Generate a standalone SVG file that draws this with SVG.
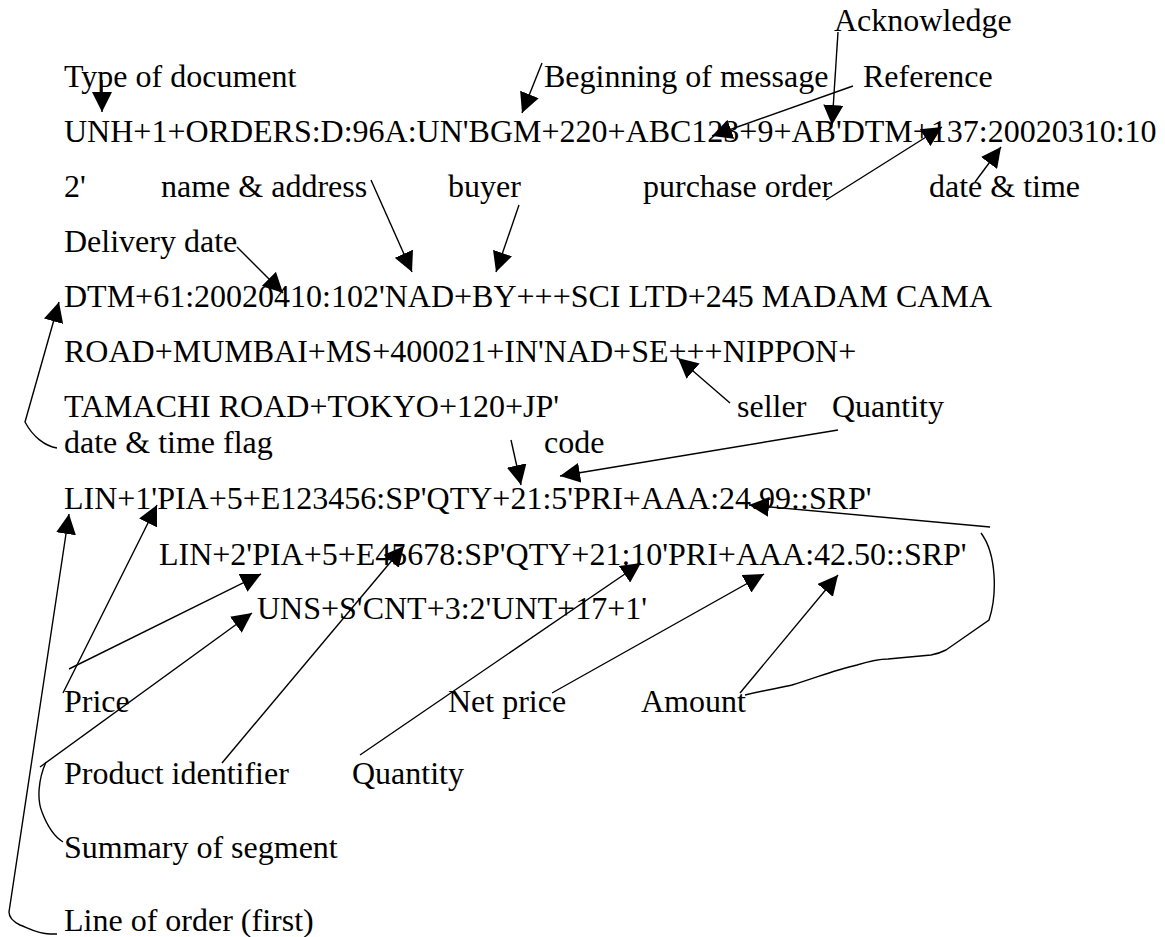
<svg xmlns="http://www.w3.org/2000/svg" width="1165" height="937" viewBox="0 0 1165 937">
<defs>
<style>
text{font-family:"Liberation Serif","Times New Roman",serif;font-size:32px;fill:#000}
.c{fill:none;stroke:#000;stroke-width:1.4}
.a{marker-end:url(#ah)}
</style>
<marker id="ah" markerUnits="userSpaceOnUse" viewBox="0 0 20 20" markerWidth="20" markerHeight="20" refX="20" refY="10" orient="auto">
<path d="M0,0 L20,10 L0,20 z" fill="#000"/>
</marker>
</defs>
<rect width="1165" height="937" fill="#fff"/>
<g id="connectors">
<line class="c a" x1="102" y1="80" x2="102" y2="112"/>
<line class="c a" x1="542" y1="63" x2="522" y2="113"/>
<line class="c a" x1="838" y1="32" x2="832" y2="125"/>
<line class="c a" x1="853" y1="86" x2="712" y2="136"/>
<line class="c a" x1="826" y1="200" x2="942" y2="127"/>
<line class="c a" x1="975" y1="182" x2="1001" y2="147"/>
<line class="c a" x1="371" y1="180" x2="412" y2="272"/>
<line class="c a" x1="519" y1="205" x2="496" y2="272"/>
<line class="c a" x1="237" y1="247" x2="283" y2="293"/>
<path class="c a" d="M57,448 C45,446 33,437 25,422 L59,302"/>
<line class="c a" x1="730" y1="403" x2="678" y2="358"/>
<line class="c a" x1="838" y1="430" x2="560" y2="476"/>
<line class="c a" x1="511" y1="440" x2="521" y2="485"/>
<path class="c a" d="M57,934 L50,934 C38,934 30,929 20,925 C14,922 9,918 9,912 L69,514"/>
<line class="c a" x1="63" y1="693" x2="157" y2="505"/>
<line class="c a" x1="69" y1="669" x2="261" y2="574"/>
<line class="c a" x1="40" y1="767" x2="252" y2="613"/>
<path class="c" d="M46,762 C38,780 37,800 42,812 C48,828 55,837 63,842"/>
<line class="c a" x1="222" y1="763" x2="404" y2="546"/>
<line class="c a" x1="360" y1="755" x2="641" y2="563"/>
<line class="c a" x1="552" y1="693" x2="764" y2="574"/>
<line class="c a" x1="740" y1="693" x2="838" y2="575"/>
<path class="c" d="M745,695 C765,690 780,688 792,685 C815,678 835,670 857,665 C870,661 880,659 888,659 L931,655 C938,654 942,652 946,650 L989,620 C994,605 995,590 994,575 C993,560 990,545 981,533"/>
<line class="c a" x1="990" y1="527" x2="749" y2="505"/>
</g>
<g id="labels-top">
<g id="n-ack"><text x="834" y="31">Acknowledge</text></g>
<g id="n-type"><text x="64" y="87">Type of document</text></g>
<g id="n-bgm"><text x="544" y="87">Beginning of message</text></g>
<g id="n-ref"><text x="863" y="87">Reference</text></g>
</g>
<g id="n-msg1"><text x="64" y="142">UNH+1+ORDERS:D:96A:UN'BGM+220+ABC123+9+AB'DTM+137:20020310:10</text></g>
<g id="n-row3">
<text x="64" y="197">2'</text>
<text x="161" y="197">name &amp; address</text>
<text x="448" y="197">buyer</text>
<text x="643" y="197">purchase order</text>
<text x="929" y="197">date &amp; time</text>
</g>
<g id="n-delivery"><text x="64" y="252">Delivery date</text></g>
<g id="n-msg2">
<text x="64" y="307">DTM+61:20020410:102'NAD+BY+++SCI LTD+245 MADAM CAMA</text>
<text x="64" y="362">ROAD+MUMBAI+MS+400021+IN'NAD+SE+++NIPPON+</text>
<text x="64" y="417">TAMACHI ROAD+TOKYO+120+JP'</text>
</g>
<g id="n-seller"><text x="737" y="417">seller</text></g>
<g id="n-qty1"><text x="832" y="417">Quantity</text></g>
<g id="n-flag"><text x="64" y="453">date &amp; time flag</text></g>
<g id="n-code"><text x="544" y="453">code</text></g>
<g id="n-msg3">
<text x="64" y="509">LIN+1'PIA+5+E123456:SP'QTY+21:5'PRI+AAA:24.99::SRP'</text>
<text x="159" y="565">LIN+2'PIA+5+E45678:SP'QTY+21:10'PRI+AAA:42.50::SRP'</text>
<text x="257" y="619">UNS+S'CNT+3:2'UNT+17+1'</text>
</g>
<g id="n-price"><text x="64" y="712">Price</text></g>
<g id="n-net"><text x="448" y="712">Net price</text></g>
<g id="n-amount"><text x="641" y="712">Amount</text></g>
<g id="n-product"><text x="64" y="784">Product identifier</text></g>
<g id="n-qty2"><text x="352" y="784">Quantity</text></g>
<g id="n-summary"><text x="64" y="858">Summary of segment</text></g>
<g id="n-line"><text x="64" y="931">Line of order (first)</text></g>
</svg>
